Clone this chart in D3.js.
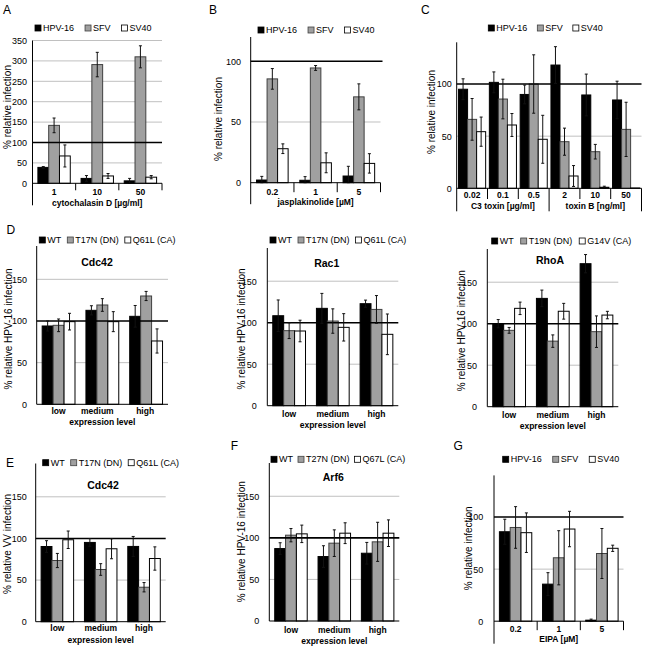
<!DOCTYPE html>
<html>
<head>
<meta charset="utf-8">
<script src="https://cdn.jsdelivr.net/npm/d3@7"></script>
<style>
  body { margin: 0; background: #fff; }
  text { font-family: "Liberation Sans", Arial, sans-serif; fill: #000; }
</style>
</head>
<body>
<script>
// series names
const virusSeries = ["HPV-16", "SFV", "SV40"];
const cdc42Series = ["WT", "T17N (DN)", "Q61L (CA)"];
const rhoaSeries = ["WT", "T19N (DN)", "G14V (CA)"];
const arf6Series = ["WT", "T27N (DN)", "Q67L (CA)"];
const levels = ["low", "medium", "high"];

// A - cytochalasin D
const catsA = ["1", "10", "50"];
const hpvA = [39, 12, 6], hpvErrA = [2, 7, 6];
const sfvA = [142, 291, 310], sfvErrA = [18, 30, 27];
const sv40A = [67, 18, 15], sv40ErrA = [27, 6, 4];

// B - jasplakinolide
const catsB = ["0.2", "1", "5"];
const hpvB = [2.2, 2, 5.5], hpvErrB = [3, 3, 8];
const sfvB = [85.5, 94.5, 70.7], sfvErrB = [8.5, 2, 10.7];
const sv40B = [28, 16.4, 15.9], sv40ErrB = [4, 8.2, 8];

// C - C3 toxin / toxin B
const catsC = ["0.02", "0.1", "0.5", "2", "10", "50"];
const groupsC = ["C3 toxin [µg/ml]", "toxin B [ng/ml]"];
const hpvC = [95, 101.6, 90, 118.2, 89.5, 84.7], hpvErrC = [10, 10, 9, 17.6, 20, 18];
const sfvC = [66.1, 85.6, 100, 44.7, 35.1, 56.5], sfvErrC = [20, 19, 28, 13, 7, 26];
const sv40C = [54.3, 60.7, 47, 11.8, 1, 0.3], sv40ErrC = [14, 11, 23, 10, 1, 0];

// D - Cdc42 / Rac1 / RhoA (HPV-16)
const wtCdc42 = [94, 112.8, 105.6], wtErrCdc42 = [6, 5.5, 13];
const dnCdc42 = [94.8, 119.2, 130], dnErrCdc42 = [7.6, 7.6, 5.5];
const caCdc42 = [99.2, 99.2, 76], caErrCdc42 = [10, 12, 14.5];

const wtRac1 = [108.4, 117.3, 122.9], wtErrRac1 = [19, 18, 4.3];
const dnRac1 = [90.4, 102, 116], dnErrRac1 = [9.5, 14.7, 16.7];
const caRac1 = [90, 94.4, 86], caErrRac1 = [13, 16.5, 24.5];

const wtRhoA = [100, 130.5, 172.3], wtErrRhoA = [5, 10, 11];
const dnRhoA = [92, 79, 90.4], dnErrRhoA = [3.5, 7.5, 19];
const caRhoA = [118.5, 115, 110.4], caErrRhoA = [7.5, 9.5, 4.5];

// E - Cdc42 (VV)
const wtCdc42VV = [90.3, 95.2, 90.4], wtErrCdc42VV = [7, 4.6, 12];
const dnCdc42VV = [73.5, 62.7, 41.4], dnErrCdc42VV = [8.5, 7, 5.6];
const caCdc42VV = [98.4, 87.6, 75.9], caErrCdc42VV = [10.5, 12, 14];

// F - Arf6
const wtArf6 = [87.1, 77.5, 81.5], wtErrArf6 = [7, 13, 13];
const dnArf6 = [103.2, 93.6, 95.2], dnErrArf6 = [8, 16, 23.5];
const caArf6 = [104.8, 105.6, 105.6], caErrArf6 = [10.5, 12.5, 16];

// G - EIPA
const catsG = ["0.2", "1", "5"];
const hpvG = [85.9, 35.6, 1], hpvErrG = [12, 11, 1];
const sfvG = [90, 60.9, 65], sfvErrG = [20, 26, 24];
const sv40G = [85, 88.5, 70], sv40ErrG = [19, 17, 3];

const fills = ["#000000", "#a0a0a0", "#ffffff"];
const strokes = ["#000000", "#404040", "#000000"];

const svg = d3.select("body").append("svg")
  .attr("width", 645)
  .attr("height", 647);

function drawPanel(p) {
  const g = svg.append("g");
  const x = d3.scaleBand().domain(p.cats).range([p.x0, p.x1]);
  const bw = x.bandwidth();
  const sub = d3.scaleBand().domain([0, 1, 2])
    .range([bw * (1 - p.fill) / 2, bw * (1 + p.fill) / 2]);
  const y = d3.scaleLinear().domain([0, p.max]).range([p.y0, p.yTop]);

  // letter
  if (p.letter) {
    g.append("text").attr("x", p.lx).attr("y", p.ly)
      .attr("font-size", 12).text(p.letter);
  }

  // gray grid lines
  g.selectAll(".grid").data(p.grid).join("line")
    .attr("x1", p.x0).attr("x2", p.x1)
    .attr("y1", d => y(d)).attr("y2", d => y(d))
    .attr("stroke", "#c0c0c0").attr("stroke-width", 1);

  // bars
  p.vals.forEach((vals, si) => {
    g.selectAll(".bar" + si).data(vals).join("rect")
      .attr("x", (d, i) => x(p.cats[i]) + sub(si))
      .attr("y", d => y(d))
      .attr("width", sub.bandwidth())
      .attr("height", d => y(0) - y(d))
      .attr("fill", fills[si])
      .attr("stroke", strokes[si])
      .attr("stroke-width", 1);
  });

  // 100% reference line
  g.append("line")
    .attr("x1", p.x0).attr("x2", p.x1 + (p.refExt || 0))
    .attr("y1", y(100)).attr("y2", y(100))
    .attr("stroke", "#000").attr("stroke-width", 1.6);

  // error bars
  p.errs.forEach((errs, si) => {
    const cx = (i) => x(p.cats[i]) + sub(si) + sub.bandwidth() / 2;
    const eg = g.append("g").attr("stroke", "#111").attr("stroke-width", 1);
    errs.forEach((e, i) => {
      if (!e) return;
      const v = p.vals[si][i];
      const lo = Math.max(0, v - e), hi = v + e;
      eg.append("line").attr("x1", cx(i)).attr("x2", cx(i))
        .attr("y1", y(lo)).attr("y2", y(hi));
      [lo, hi].forEach(t => {
        eg.append("line").attr("x1", cx(i) - 1.5).attr("x2", cx(i) + 1.5)
          .attr("y1", y(t)).attr("y2", y(t));
      });
    });
  });

  // y axis
  const ya = g.append("g").attr("transform", `translate(${p.x0},0)`)
    .call(d3.axisLeft(y).tickValues(p.ticks).tickSize(0).tickPadding(p.pad)
      .tickFormat(d3.format("d")));
  ya.select(".domain").remove();
  ya.selectAll("text").attr("font-size", 9).attr("font-family", "Liberation Sans, Arial, sans-serif");
  g.append("line").attr("x1", p.x0).attr("x2", p.x0)
    .attr("y1", p.yTop).attr("y2", p.y0 + (p.axisDown || 0))
    .attr("stroke", "#000").attr("stroke-width", 1);

  // x axis line
  g.append("line").attr("x1", p.x0).attr("x2", p.x1)
    .attr("y1", p.y0).attr("y2", p.y0)
    .attr("stroke", "#000").attr("stroke-width", 1);

  // category separators
  if (p.sepDown) {
    const bounds = p.cats.map(c => x(c) + bw);
    g.selectAll(".sep").data(bounds).join("line")
      .attr("x1", d => d).attr("x2", d => d)
      .attr("y1", p.y0)
      .attr("y2", (d, i) => p.y0 + ((p.longSeps || []).includes(i) ? p.axisDown : p.sepDown))
      .attr("stroke", "#000").attr("stroke-width", 1);
  }

  // category labels
  const xa = g.append("g").attr("transform", `translate(0,${p.catY})`)
    .call(d3.axisBottom(x).tickSize(0).tickPadding(0));
  xa.select(".domain").remove();
  xa.selectAll("text").attr("font-size", 8.5).attr("font-weight", "bold")
    .attr("font-family", "Liberation Sans, Arial, sans-serif")
    .attr("dy", "0.35em").attr("dx", (d, i) => (p.catDx ? p.catDx[i] : 0));

  // x title(s)
  if (p.groups) {
    const per = p.cats.length / p.groups.length;
    p.groups.forEach((gname, gi) => {
      const a = x(p.cats[gi * per]), b = x(p.cats[gi * per + per - 1]) + bw;
      g.append("text").attr("x", (a + b) / 2).attr("y", p.titleY)
        .attr("dy", "0.35em").attr("text-anchor", "middle")
        .attr("font-size", 8.5).attr("font-weight", "bold").text(gname);
    });
  } else {
    g.append("text").attr("x", (p.x0 + p.x1) / 2).attr("y", p.titleY)
      .attr("dy", "0.35em").attr("text-anchor", "middle")
      .attr("font-size", 8.5).attr("font-weight", "bold").text(p.xtitle);
  }

  // y title
  g.append("text")
    .attr("transform", `translate(${p.ytx},${p.yty}) rotate(-90)`)
    .attr("text-anchor", "middle").attr("dy", "0.35em")
    .attr("font-size", 10).text(p.ytitle);

  // chart title
  if (p.title) {
    g.append("text").attr("x", p.tx).attr("y", p.ty).attr("dy", "0.35em")
      .attr("text-anchor", "middle").attr("font-size", 10.5)
      .attr("font-weight", "bold").text(p.title);
  }

  // legend, laid out one item after the other
  let lx = p.legX;
  p.series.forEach((s, si) => {
    g.append("rect").attr("x", lx).attr("y", p.legY - 3)
      .attr("width", 6).attr("height", 6)
      .attr("fill", fills[si]).attr("stroke", strokes[si]).attr("stroke-width", 0.8);
    const t = g.append("text").attr("x", lx + 8).attr("y", p.legY)
      .attr("dy", "0.35em").attr("font-size", 9).text(s);
    lx += 8 + t.node().getComputedTextLength() + p.legGap;
  });
}

const pctTicks = [0, 50, 100];
const expTicks = [0, 50, 100, 150];

drawPanel({
  letter: "A", lx: 3, ly: 13.5,
  cats: catsA, series: virusSeries,
  vals: [hpvA, sfvA, sv40A], errs: [hpvErrA, sfvErrA, sv40ErrA],
  x0: 32.5, x1: 162, y0: 183.3, yTop: 40.5, max: 350,
  ticks: d3.range(0, 351, 50), grid: [50, 150, 200, 250, 300, 350], pad: 5.5,
  fill: 0.75, sepDown: 7, axisDown: 22, catY: 191.7, titleY: 202.7,
  xtitle: "cytochalasin D [µg/ml]",
  ytitle: "% relative infection", ytx: 7, yty: 107,
  legX: 35, legGap: 11, legY: 28
});

drawPanel({
  letter: "B", lx: 209, ly: 13.5,
  cats: catsB, series: virusSeries,
  vals: [hpvB, sfvB, sv40B], errs: [hpvErrB, sfvErrB, sv40ErrB],
  x0: 250.7, x1: 380.5, y0: 182.7, yTop: 37, max: 120,
  ticks: pctTicks, grid: [50], pad: 9.7, refExt: 2,
  fill: 0.73, sepDown: 9.5, axisDown: 21.5, catY: 191.7, titleY: 202.3,
  xtitle: "jasplakinolide [µM]",
  ytitle: "% relative infection", ytx: 218, yty: 119,
  legX: 258, legGap: 11, legY: 30
});

drawPanel({
  letter: "C", lx: 421, ly: 13.5,
  cats: catsC, series: virusSeries, groups: groupsC,
  vals: [hpvC, sfvC, sv40C], errs: [hpvErrC, sfvErrC, sv40ErrC],
  x0: 456.7, x1: 641.5, y0: 188.3, yTop: 42.3, max: 140,
  ticks: pctTicks, grid: [50], pad: 5,
  fill: 0.88, sepDown: 10.7, axisDown: 23, longSeps: [2, 5], catY: 195.3, titleY: 205.8,
  ytitle: "% relative infection", ytx: 431.7, yty: 112,
  legX: 488.3, legGap: 10, legY: 28
});

drawPanel({
  letter: "D", lx: 6.5, ly: 233.5,
  cats: levels, series: cdc42Series,
  vals: [wtCdc42, dnCdc42, caCdc42], errs: [wtErrCdc42, dnErrCdc42, caErrCdc42],
  x0: 36.7, x1: 168, y0: 404.3, yTop: 246, max: 190,
  ticks: expTicks, grid: [50, 150], pad: 9.7,
  fill: 0.75, catY: 411, titleY: 421.7, catDx: [0, -5, -1],
  xtitle: "expression level", title: "Cdc42", tx: 97, ty: 262.7,
  ytitle: "% relative HPV-16 infection", ytx: 8.3, yty: 329,
  legX: 39.3, legGap: 6, legY: 240
});

drawPanel({
  cats: levels, series: cdc42Series,
  vals: [wtRac1, dnRac1, caRac1], errs: [wtErrRac1, dnErrRac1, caErrRac1],
  x0: 267.3, x1: 398.3, y0: 405.7, yTop: 248, max: 190,
  ticks: expTicks, grid: [50, 150], pad: 10.6,
  fill: 0.75, catY: 414.3, titleY: 425,
  xtitle: "expression level", title: "Rac1", tx: 326.7, ty: 263,
  ytitle: "% relative HPV-16 infection", ytx: 241.7, yty: 329,
  legX: 270, legGap: 6, legY: 240
});

drawPanel({
  cats: levels, series: rhoaSeries,
  vals: [wtRhoA, dnRhoA, caRhoA], errs: [wtErrRhoA, dnErrRhoA, caErrRhoA],
  x0: 487.3, x1: 618.3, y0: 406.7, yTop: 249, max: 190,
  ticks: expTicks, grid: [50, 150], pad: 10.3,
  fill: 0.75, catY: 415, titleY: 425.7,
  xtitle: "expression level", title: "RhoA", tx: 550, ty: 260,
  ytitle: "% relative HPV-16 infection", ytx: 461.7, yty: 330.7,
  legX: 491.7, legGap: 7, legY: 241
});

drawPanel({
  letter: "E", lx: 6, ly: 466.7,
  cats: levels, series: cdc42Series,
  vals: [wtCdc42VV, dnCdc42VV, caCdc42VV], errs: [wtErrCdc42VV, dnErrCdc42VV, caErrCdc42VV],
  x0: 35.7, x1: 165.7, y0: 621.7, yTop: 463.5, max: 190,
  ticks: expTicks, grid: [50, 150], pad: 9,
  fill: 0.75, catY: 628.3, titleY: 640,
  xtitle: "expression level", title: "Cdc42", tx: 103, ty: 485,
  ytitle: "% relative VV infection", ytx: 7, yty: 544,
  legX: 42.7, legGap: 6, legY: 462.7
});

drawPanel({
  letter: "F", lx: 230.7, ly: 449.5,
  cats: levels, series: arf6Series,
  vals: [wtArf6, dnArf6, caArf6], errs: [wtErrArf6, dnErrArf6, caErrArf6],
  x0: 269.3, x1: 399.3, y0: 621, yTop: 463, max: 190,
  ticks: expTicks, grid: [50, 150], pad: 10,
  fill: 0.75, catY: 630, titleY: 640.7,
  xtitle: "expression level", title: "Arf6", tx: 333.3, ty: 477.7,
  ytitle: "% relative HPV-16 infection", ytx: 241.7, yty: 541.7,
  legX: 271, legGap: 5, legY: 459.3
});

drawPanel({
  letter: "G", lx: 453.5, ly: 449.5,
  cats: catsG, series: virusSeries,
  vals: [hpvG, sfvG, sv40G], errs: [hpvErrG, sfvErrG, sv40ErrG],
  x0: 494, x1: 623.5, y0: 621.2, yTop: 475.4, max: 140,
  ticks: pctTicks, grid: [50], pad: 10.7,
  fill: 0.75, sepDown: 9, axisDown: 22.5, catY: 628.7, titleY: 638.7,
  xtitle: "EIPA [µM]",
  ytitle: "% relative infection", ytx: 468.3, yty: 548.3,
  legX: 502.7, legGap: 11, legY: 459.3
});
</script>
</body>
</html>
